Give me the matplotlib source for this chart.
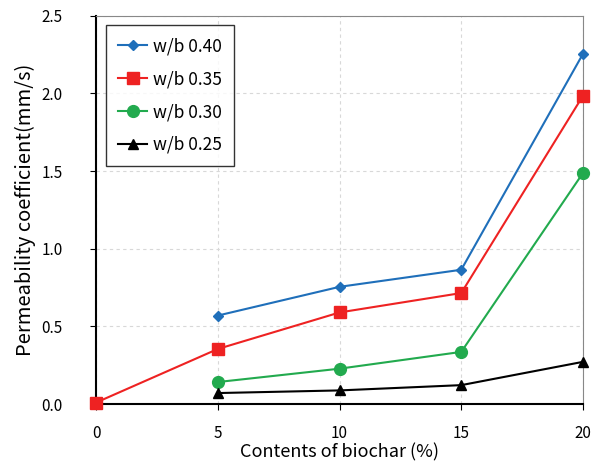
import matplotlib
matplotlib.use('Agg')
import matplotlib.pyplot as plt

plt.rcParams['font.family'] = ['Noto Sans CJK KR', 'DejaVu Sans']
plt.rcParams['font.weight'] = 'medium'

x_040 = [5, 10, 15, 20]
y_040 = [0.57, 0.755, 0.865, 2.255]
x_035 = [0, 5, 10, 15, 20]
y_035 = [0.01, 0.355, 0.59, 0.715, 1.985]
x_030 = [5, 10, 15, 20]
y_030 = [0.142, 0.228, 0.336, 1.488]
x_025 = [5, 10, 15, 20]
y_025 = [0.071, 0.088, 0.122, 0.272]

labels = ['w/b 0.40', 'w/b 0.35', 'w/b 0.30', 'w/b 0.25']

fig = plt.figure(figsize=(6.01, 4.65), dpi=100)
ax = fig.add_axes([0.16, 0.131, 0.81, 0.835])

ax.plot(x_040, y_040, color='#1f6fba', marker='D', markersize=5, linewidth=1.5, label=labels[0], zorder=3)
ax.plot(x_035, y_035, color='#ee2222', marker='s', markersize=8.5, linewidth=1.5, label=labels[1], zorder=3)
ax.plot(x_030, y_030, color='#22aa4e', marker='o', markersize=8.5, linewidth=1.5, label=labels[2], zorder=3)
ax.plot(x_025, y_025, color='black', marker='^', markersize=7, linewidth=1.5, label=labels[3], zorder=3)

ax.set_xlim(0, 20)
ax.set_ylim(0, 2.5)
ax.set_xticks([0, 5, 10, 15, 20])
ax.set_yticks([0.0, 0.5, 1.0, 1.5, 2.0, 2.5])
ax.set_yticklabels(['0.0', '0.5', '1.0', '1.5', '2.0', '2.5'])
ax.tick_params(labelsize=11, direction='out', length=4)
ax.tick_params(axis='x', pad=11)
ax.tick_params(axis='y', pad=20)
ax.grid(True, linestyle=(0, (3, 3)), color='#d8d8d8', linewidth=0.8)
ax.set_axisbelow(True)
for line in ax.lines:
	line.set_clip_on(False)

ax.spines['left'].set_color('black')
ax.spines['bottom'].set_color('black')
ax.spines['left'].set_linewidth(1.5)
ax.spines['bottom'].set_linewidth(1.5)
ax.spines['top'].set_color('#888888')
ax.spines['right'].set_color('#888888')

ax.set_xlabel('Contents of biochar (%)', fontsize=13, labelpad=1)
ax.set_ylabel('Permeability coefficient(mm/s)', fontsize=14.5, labelpad=4)

leg = ax.legend(loc='upper left', bbox_to_anchor=(0.0, 1.0), fontsize=12.5, frameon=True,
	fancybox=False, edgecolor='black', labelspacing=0.85, handlelength=1.7, handletextpad=0.3,
	borderpad=0.7, borderaxespad=0.55)
leg.get_frame().set_linewidth(1.0)

fig.savefig('out.png', dpi=100)
